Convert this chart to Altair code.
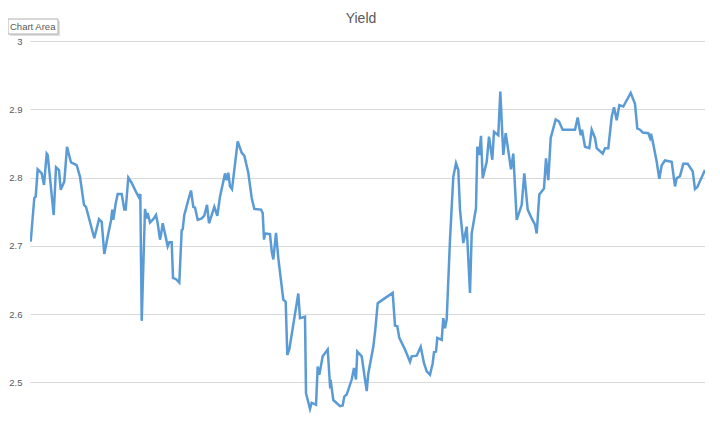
import altair as alt
import pandas as pd

# time index (trading-day position) and yield values
t = [0.7, 4.3, 5.7, 7.7, 11.7, 14, 16.7, 17.7, 23.7, 26, 29, 30.7, 34.3, 37, 41, 46.7, 50, 54, 56,
     64.3, 69, 71.7, 74.3, 78.3, 81, 82.3, 83.3, 85.7, 87.7, 91.7, 94.3, 95.7, 98.3, 101.7, 106.7,
     109.3, 110.3, 111.7, 115, 116.7, 117.7, 120, 123.3, 126, 127.7, 130, 131, 132.7, 135.7, 137.7,
     139.3, 141.7, 143, 146, 149.3, 151.7, 152.7, 154.3, 158.3, 161, 163.3, 165, 167.7, 171.7, 174.3,
     177, 179, 181.7, 184.3, 187.3, 190, 193.3, 195, 196.7, 198.3, 200, 202, 207.7, 211.7, 214.3,
     218.3, 221.7, 224.3, 231, 232.7, 234, 235, 240, 241.7, 243.3, 246, 248.3, 253.3, 255.7, 257.3,
     259.3, 268.3, 270, 275, 276, 280, 281.7, 286, 287.7, 289.3, 292.7, 297.7, 300, 301, 303.3, 310,
     312.7, 314.3, 316.7, 321.7, 324, 326, 327.3, 331.7, 336.7, 338.3, 343.3, 345.3, 347.7, 351.7,
     362.7, 365, 367.3, 369.3, 375, 380, 381.7, 386.7, 390.7, 394, 396.7, 400, 402.7, 404, 406, 407.3,
     411.7, 413.3, 415, 416.7, 420, 423.3, 426, 428.3, 430, 433.3, 436.7, 440, 441.7, 446, 447.3,
     449.3, 451, 452.7, 456.7, 459, 462.3, 464, 468.3, 470.3, 473.3, 475.7, 481, 483.3, 486.7, 491.7,
     494.3, 497.7, 501.7, 505, 506.7, 509.3, 514, 516, 518.3, 520.7, 525.7, 529, 532.7, 545, 547.7,
     550.7, 552, 555, 559.3, 561.7, 565, 566.7, 572.7, 575, 578.3, 581.7, 584, 586.7, 589.3, 593.3,
     600.7, 605, 607.3, 610, 612.7, 618.3, 620, 621, 622.7, 626.7, 629.3, 631.7, 635, 641.7, 645,
     646.7, 650, 653.3, 657.7, 662.7, 665, 667.3, 675]
yield_vals = [2.706, 2.770, 2.772, 2.812, 2.806, 2.789, 2.835, 2.833, 2.745, 2.815, 2.811, 2.782,
              2.794, 2.845, 2.822, 2.818, 2.801, 2.760, 2.757, 2.711, 2.739, 2.735, 2.688, 2.718,
              2.737, 2.753, 2.738, 2.762, 2.776, 2.776, 2.753, 2.753, 2.800, 2.792, 2.777, 2.770,
              2.776, 2.590, 2.754, 2.740, 2.748, 2.734, 2.739, 2.745, 2.733, 2.709, 2.716, 2.733,
              2.713, 2.699, 2.705, 2.705, 2.653, 2.651, 2.646, 2.723, 2.724, 2.745, 2.767, 2.781,
              2.757, 2.756, 2.738, 2.740, 2.744, 2.760, 2.733, 2.745, 2.757, 2.744, 2.772, 2.794,
              2.806, 2.796, 2.807, 2.787, 2.783, 2.853, 2.836, 2.832, 2.807, 2.770, 2.754, 2.753,
              2.748, 2.709, 2.718, 2.717, 2.692, 2.680, 2.719, 2.682, 2.621, 2.618, 2.540, 2.548,
              2.630, 2.594, 2.596, 2.484, 2.461, 2.470, 2.467, 2.523, 2.511, 2.538, 2.548, 2.496,
              2.499, 2.474, 2.465, 2.466, 2.479, 2.482, 2.504, 2.521, 2.504, 2.545, 2.538, 2.487,
              2.513, 2.552, 2.577, 2.616, 2.620, 2.631, 2.583, 2.582, 2.565, 2.548, 2.530, 2.538,
              2.539, 2.552, 2.528, 2.516, 2.511, 2.528, 2.544, 2.545, 2.565, 2.562, 2.594, 2.579,
              2.592, 2.709, 2.801, 2.821, 2.811, 2.753, 2.704, 2.728, 2.631, 2.718, 2.755, 2.845,
              2.833, 2.861, 2.799, 2.823, 2.860, 2.826, 2.867, 2.862, 2.926, 2.833, 2.865, 2.812,
              2.835, 2.738, 2.760, 2.806, 2.753, 2.740, 2.731, 2.718, 2.775, 2.784, 2.828, 2.796,
              2.858, 2.885, 2.882, 2.870, 2.870, 2.888, 2.862, 2.870, 2.845, 2.843, 2.870, 2.858,
              2.843, 2.835, 2.843, 2.843, 2.889, 2.903, 2.884, 2.906, 2.904, 2.924, 2.908, 2.872,
              2.870, 2.866, 2.865, 2.858, 2.864, 2.853, 2.823, 2.798, 2.818, 2.825, 2.823, 2.787,
              2.799, 2.802, 2.820, 2.820, 2.809, 2.783, 2.786, 2.811]
y_ticks = [2.5, 2.6, 2.7, 2.8, 2.9, 3.0]
chart_title = "Yield"
tip_label = "Chart Area"

n = min(len(t), len(yield_vals))
df = pd.DataFrame({"t": t[:n], "Yield": yield_vals[:n]})
one = pd.DataFrame({"k": [0]})

FONT = "Liberation Sans"
GRAY = "#595959"

line = alt.Chart(df).mark_line(color="#5B9BD5", strokeWidth=2.5, clip=True).encode(
    x=alt.X("t:Q", scale=alt.Scale(domain=[0, 675], nice=False, zero=False), axis=None),
    y=alt.Y("Yield:Q",
            scale=alt.Scale(domain=[2.433, 3.0], nice=False, zero=False),
            axis=alt.Axis(values=y_ticks, title=None, domain=False, ticks=False,
                          labelFontSize=9.5, labelColor=GRAY, labelFont=FONT, labelPadding=8,
                          gridColor="#d9d9d9", gridWidth=1,
                          labelExpr="datum.value == 3 ? '3' : format(datum.value, '.1f')")),
)

# faint chart-area borders (left edge and top strip)
left_edge = alt.Chart(one).mark_rule(color="#e3e3e3", strokeWidth=1).encode(
    x=alt.value(-27), y=alt.value(-41), y2=alt.value(400))
top_edge = alt.Chart(one).mark_rule(color="#ececec", strokeWidth=1).encode(
    x=alt.value(-30), x2=alt.value(690), y=alt.value(-37))

title_mark = alt.Chart(one).mark_text(
    text=chart_title, font=FONT, fontSize=14, color=GRAY, align="center", baseline="middle"
).encode(x=alt.value(331), y=alt.value(-22))

tip_shadow = alt.Chart(one).mark_rect(fill="#d0d0d0", opacity=0.7).encode(
    x=alt.value(-20), x2=alt.value(30), y=alt.value(-20), y2=alt.value(-5))
tip_box = alt.Chart(one).mark_rect(
    fill="white", stroke="#b0b0b0", strokeWidth=1
).encode(x=alt.value(-22), x2=alt.value(28), y=alt.value(-22), y2=alt.value(-7))
tip_text = alt.Chart(one).mark_text(
    text=tip_label, font=FONT, fontSize=9.5, color=GRAY, align="left", baseline="middle"
).encode(x=alt.value(-20), y=alt.value(-14.5))

chart = alt.layer(left_edge, top_edge, line, title_mark, tip_shadow, tip_box, tip_text).properties(
    width=675, height=387,
    autosize=alt.AutoSizeParams(type="none"),
    padding={"left": 22, "top": 33, "right": 0, "bottom": 0},
).configure_view(stroke=None).configure_axis(grid=True)

chart.save("out.html", embed_options={"renderer": "svg", "actions": False})
